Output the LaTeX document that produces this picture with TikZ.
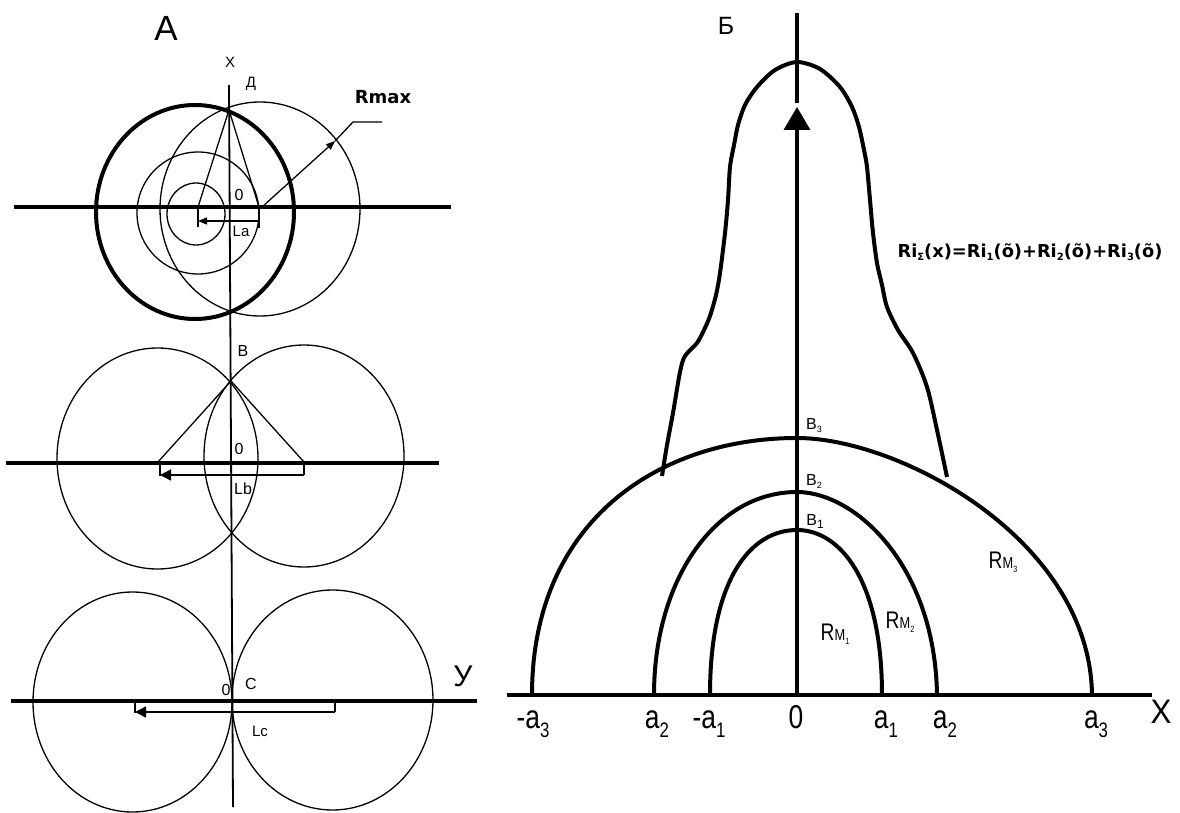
\documentclass[tikz,border=0pt]{standalone}
\usepackage{fontspec}
\usepackage{graphicx}
\setmainfont{Liberation Sans}
\newfontfamily\dvb{DejaVu Sans}
\newfontfamily\nrw{Liberation Sans}[FakeStretch=0.8]
\newfontfamily\nrx{Liberation Sans}[FakeStretch=0.92]
\usetikzlibrary{arrows.meta}
\newcommand\fs[1]{\fontsize{#1}{#1}\selectfont}
\newcommand\lsub[3]{\raisebox{-#1pt}{\fs{#2}#3}}
\begin{document}
\begin{tikzpicture}[x=1pt,y=-1pt,
  lt/.style={line width=1.3pt},
  hv/.style={line width=4pt},
  axa/.style={line width=1.8pt},
  axb/.style={line width=3.5pt},
  lbl/.style={inner sep=0pt, font=\fs{16}},
  big/.style={inner sep=0pt, font=\nrw\fs{33}, anchor=base},
  rlab/.style={inner sep=0pt, anchor=base},
  smalltip/.style={-{Triangle[length=9pt,width=7pt]}},
  midtip/.style={-{Triangle[length=11pt,width=11pt]}}
]
\useasboundingbox (0,0) rectangle (1180,813);

% ================= Panel A =================
\node[inner sep=0pt, font=\fs{35}] (tA) at (166,28) {А};
\coordinate (xtop) at (229,85);
\coordinate (xbot) at (233,807);
\draw[axa] (xtop) -- (xbot);
\node[lbl, font=\fs{15}] (lX) at (230,62) {X};
\node[lbl, font=\fs{15}] (lD) at (251,84) {Д};

% top group
\coordinate (D) at (229,110);
\coordinate (c1) at (195,212);
\coordinate (c2) at (260,209);
\coordinate (pL) at (198,207);
\coordinate (pR) at (259,207);
\draw[hv] (14,207) -- (451,207);
\draw[hv] (c1) ellipse [x radius=99, y radius=107];
\draw[lt] (c2) ellipse [x radius=100, y radius=107];
\draw[lt] (198,213) ellipse [x radius=61, y radius=61];
\draw[lt] (196,214) ellipse [x radius=29, y radius=31];
\draw[lt] (pL) -- (D) -- (pR);
\draw[lt] (pL) -- (198,227);
\draw[lt] (pR) -- (259,228);
\draw[lt, smalltip] (259,221) -- (198,221);
\coordinate (rs) at (262,207);
\coordinate (ra) at (335,141);
\coordinate (rk) at (353,122);
\coordinate (re) at (382,122);
\draw[lt, smalltip] (rs) -- (ra);
\draw[lt] (ra) -- (rk) -- (re);
\node[inner sep=0pt, font=\dvb\bfseries\fs{18}] (lRmax) at (383,97) {Rmax};
\node[lbl] (l0a) at (239,195) {0};
\node[lbl, font=\fs{15}] (lLa) at (241,231) {La};

% middle group
\coordinate (B) at (231,381);
\draw[hv] (6,463) -- (439,463);
\draw[lt] (157.5,458.5) ellipse [x radius=100.5, y radius=110.5];
\draw[lt] (304,456) ellipse [x radius=100, y radius=111];
\draw[lt] (158,462) -- (B) -- (304,462);
\draw[lt] (160,463) -- (160,476);
\draw[lt] (304,463) -- (304,475);
\draw[lt, midtip] (304,475) -- (160,475);
\node[lbl] (lB) at (243,351) {В};
\node[lbl] (l0b) at (239,449) {0};
\node[lbl] (lLb) at (243,489) {Lb};

% bottom group
\draw[hv] (11,701) -- (477,701);
\draw[lt] (132.5,702) ellipse [x radius=99.5, y radius=110];
\draw[lt] (332.5,700) ellipse [x radius=100.5, y radius=110];
\draw[lt] (135,701) -- (135,713);
\draw[lt] (335,701) -- (335,712);
\draw[lt, midtip] (335,712) -- (135,712);
\node[lbl] (l0c) at (226,690) {0};
\node[lbl] (lC) at (251,684) {С};
\node[lbl, font=\fs{15}] (lLc) at (260,731) {Lc};
\node[inner sep=0pt, font=\fs{30}] (lY) at (463,676) {У};

% ================= Panel Б =================
\node[inner sep=0pt, font=\fs{25}] (tB) at (726,26) {Б};
\coordinate (O) at (797,695);
\coordinate (ytip) at (797,107);
\draw[hv] (507,695) -- (1152,695);
\draw[axb, -{Triangle[length=23pt,width=26pt]}] (O) -- (ytip);
\draw[axb] (797,13) -- (797,103);

% arcs
\draw[hv] (710,695) .. controls (710,580) and (750,530) .. (797,530)
          .. controls (840,530) and (882,580) .. (882,695);
\draw[hv] (654,695) .. controls (654,580) and (715,492) .. (797,492)
          .. controls (855,492) and (935,565) .. (937,695);
\draw[hv] (532,695) .. controls (532,520) and (660,438) .. (797,438)
          .. controls (900,438) and (1090,540) .. (1092,695);

% bell curve
\draw[hv, line join=round] plot[smooth, tension=0.5] coordinates {
 (662,476) (667,445) (673,413) (680,372) (685,356) (697,343) (704,330)
 (710,316) (716,295) (720,273) (725,233) (728,200) (730,167) (734,145)
 (738,125) (745,105) (757,87) (775,70) (797,62) (820,69) (840,87)
 (852,107) (859,127) (864,150) (867,167) (870,200) (873,233) (877,263)
 (882,285) (887,307) (898,330) (913,353) (927,387) (937,430) (947,477)};

% B labels
\node[rlab, font=\fs{16}] (lB3) at (814,429) {B\lsub{3}{9}{3}};
\node[rlab, font=\fs{16}] (lB2) at (814,485) {B\lsub{3}{9}{2}};
\node[rlab, font=\fs{16}] (lB1) at (815,525) {B\lsub{3}{12}{1}};

% RM labels
\node[rlab] (lRM1) at (835,640) {\nrw\fs{24}R{\fs{16}M}\lsub{4}{9}{1}};
\node[rlab] (lRM2) at (900,628) {\nrw\fs{24}R{\fs{16}M}\lsub{4}{9}{2}};
\node[rlab] (lRM3) at (1003,568) {\nrw\fs{24}R{\fs{16}M}\lsub{4}{9}{3}};

% formula
\node[inner sep=0pt, anchor=base, font=\dvb\bfseries\fs{17.8}] (lF) at (1030,257)
 {Ri\lsub{3}{10}{Σ}(x)=Ri\lsub{3}{10}{1}(õ)+Ri\lsub{3}{10}{2}(õ)+Ri\lsub{3}{10}{3}(õ)};

% axis labels
\node[big] (la3m) at (533,728) {-a\lsub{9}{21}{3}};
\node[big] (la2m) at (657,728) {a\lsub{9}{21}{2}};
\node[big] (la1m) at (709,728) {-a\lsub{9}{21}{1}};
\node[big] (l0B) at (796,728) {0};
\node[big] (la1) at (886,728) {a\lsub{9}{21}{1}};
\node[big] (la2) at (945,728) {a\lsub{9}{21}{2}};
\node[big] (la3) at (1096,728) {a\lsub{9}{21}{3}};
\node[inner sep=0pt, anchor=base, font=\nrx\fs{34}] (lXB) at (1161,723) {X};
\end{tikzpicture}
\end{document}
